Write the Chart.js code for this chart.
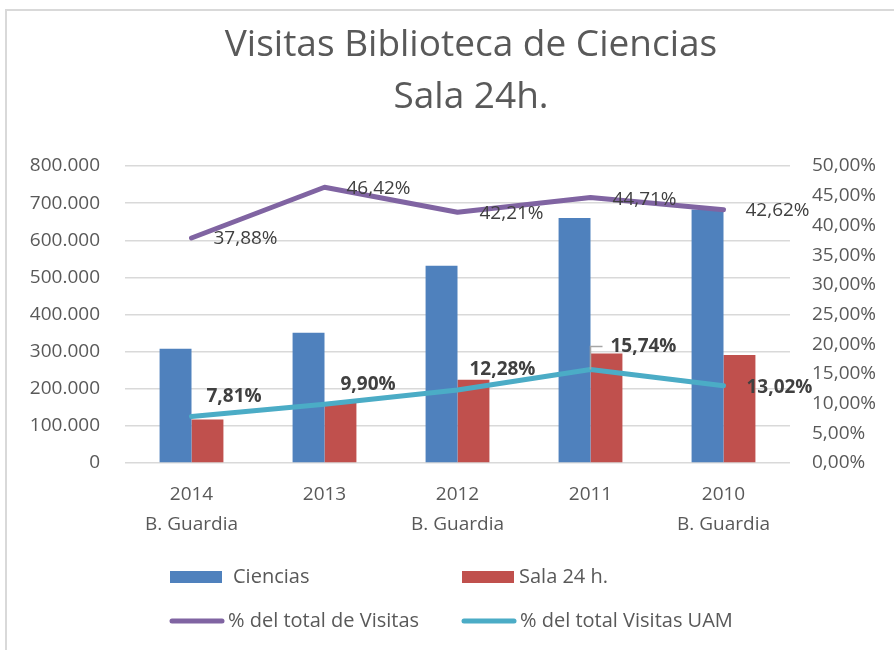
<!DOCTYPE html>
<html>
<head>
<meta charset="utf-8">
<script src="https://cdn.jsdelivr.net/npm/chart.js@4"></script>
<style>
  html, body { margin: 0; padding: 0; background: #fff; }
  #wrap { position: relative; width: 894px; height: 650px; }
  canvas { display: block; }
</style>
</head>
<body>
<div id="wrap"><canvas id="c" width="894" height="650"></canvas></div>
<script>
// ---- data ----
const categories = [['2014', 'B. Guardia'], '2013', ['2012', 'B. Guardia'], '2011', ['2010', 'B. Guardia']];
const ciencias = [308000, 351000, 531000, 660000, 683000];
const sala24 = [117000, 163000, 224000, 295000, 291000];
const pctVisitas = [37.88, 46.42, 42.21, 44.71, 42.62];
const pctUAM = [7.81, 9.90, 12.28, 15.74, 13.02];
const seriesNames = ['Ciencias', 'Sala 24 h.', '% del total de Visitas', '% del total Visitas UAM'];
const titleLines = ['Visitas Biblioteca de Ciencias', 'Sala 24h.'];

const FONT = '"Open Sans", Lato, "Liberation Sans", sans-serif';
const TXT = '#595959';
const FS = 19;
const LEG_FS = 20;

function fmtThousands(v) {
  return String(Math.round(v)).replace(/\B(?=(\d{3})+(?!\d))/g, '.');
}
function fmtPct(v) {
  return v.toFixed(2).replace('.', ',') + '%';
}

// label offsets (style only)
const visitasLabelOffset = [[22, 1], [22, 1], [22, 1], [22, 2], [22, 1]];
const uamLabelOffset = [[15, -20], [16, -20], [12, -20], [20, -23], [23, 2]];

const framePlugin = {
  id: 'frame',
  beforeDraw(chart) {
    const ctx = chart.ctx;
    ctx.save();
    ctx.fillStyle = '#fff';
    ctx.fillRect(0, 0, chart.width, chart.height);
    ctx.strokeStyle = '#D9D9D9';
    ctx.lineWidth = 2;
    ctx.beginPath();
    ctx.moveTo(6, chart.height);
    ctx.lineTo(6, 10);
    ctx.lineTo(chart.width, 10);
    ctx.stroke();
    // title
    ctx.fillStyle = TXT;
    ctx.font = '37px ' + FONT;
    ctx.textAlign = 'center';
    ctx.textBaseline = 'middle';
    ctx.fillText(titleLines[0], 471, 45);
    ctx.fillText(titleLines[1], 471, 97);
    ctx.restore();
  }
};

const labelPlugin = {
  id: 'pointLabels',
  afterDatasetsDraw(chart) {
    const ctx = chart.ctx;
    ctx.save();
    ctx.textBaseline = 'middle';
    ctx.textAlign = 'left';
    const m0 = chart.getDatasetMeta(0);
    ctx.font = FS + 'px ' + FONT;
    ctx.fillStyle = '#404040';
    m0.data.forEach((el, i) => {
      const o = visitasLabelOffset[i];
      ctx.fillText(fmtPct(pctVisitas[i]), el.x + o[0], el.y + o[1]);
    });
    const m1 = chart.getDatasetMeta(1);
    ctx.font = 'bold ' + FS + 'px ' + FONT;
    m1.data.forEach((el, i) => {
      const o = uamLabelOffset[i];
      if (i === 3) {
        ctx.strokeStyle = '#A6A6A6';
        ctx.lineWidth = 1.5;
        ctx.beginPath();
        ctx.moveTo(el.x, el.y);
        ctx.lineTo(el.x, el.y + o[1]);
        ctx.lineTo(el.x + 12, el.y + o[1]);
        ctx.stroke();
      }
      ctx.fillStyle = '#404040';
      ctx.fillText(fmtPct(pctUAM[i]), el.x + o[0], el.y + o[1]);
    });
    ctx.restore();
  }
};

const legendPlugin = {
  id: 'gridLegend',
  afterDraw(chart) {
    const ctx = chart.ctx;
    const ds = chart.data.datasets;
    const byLabel = l => ds.find(d => d.label === l);
    const items = [
      { d: byLabel(seriesNames[0]), x: 170, y: 577, type: 'box', gap: 63 },
      { d: byLabel(seriesNames[1]), x: 462, y: 577, type: 'box', gap: 57 },
      { d: byLabel(seriesNames[2]), x: 170, y: 621, type: 'line', gap: 58 },
      { d: byLabel(seriesNames[3]), x: 462, y: 621, type: 'line', gap: 58 }
    ];
    ctx.save();
    ctx.font = LEG_FS + 'px ' + FONT;
    ctx.textBaseline = 'middle';
    ctx.textAlign = 'left';
    items.forEach(it => {
      if (it.type === 'box') {
        ctx.fillStyle = it.d.backgroundColor;
        ctx.fillRect(it.x, it.y - 6, 52, 12);
      } else {
        ctx.strokeStyle = it.d.borderColor;
        ctx.lineWidth = 5;
        ctx.lineCap = 'round';
        ctx.beginPath();
        ctx.moveTo(it.x + 2, it.y);
        ctx.lineTo(it.x + 52, it.y);
        ctx.stroke();
      }
      ctx.fillStyle = TXT;
      ctx.fillText(it.d.label, it.x + it.gap, it.y);
    });
    ctx.restore();
  }
};

new Chart(document.getElementById('c'), {
  type: 'bar',
  data: {
    labels: categories,
    datasets: [
      {
        type: 'line', label: seriesNames[2], data: pctVisitas, yAxisID: 'y1',
        borderColor: '#8064A2', backgroundColor: '#8064A2', borderWidth: 5,
        pointRadius: 0, borderCapStyle: 'round', borderJoinStyle: 'round', order: 0
      },
      {
        type: 'line', label: seriesNames[3], data: pctUAM, yAxisID: 'y1',
        borderColor: '#4BACC6', backgroundColor: '#4BACC6', borderWidth: 5,
        pointRadius: 0, borderCapStyle: 'round', borderJoinStyle: 'round', order: 0
      },
      {
        label: seriesNames[0], data: ciencias, yAxisID: 'y',
        backgroundColor: '#4F81BD', order: 1,
        barPercentage: 1, categoryPercentage: 0.48
      },
      {
        label: seriesNames[1], data: sala24, yAxisID: 'y',
        backgroundColor: '#C0504D', order: 1,
        barPercentage: 1, categoryPercentage: 0.48
      }
    ]
  },
  options: {
    responsive: false,
    animation: false,
    layout: { padding: { left: 5, right: 0, top: 166, bottom: 113 } },
    plugins: {
      legend: { display: false },
      tooltip: { enabled: false },
      title: { display: false }
    },
    scales: {
      x: {
        grid: { display: false },
        border: { display: false },
        ticks: {
          color: TXT,
          font: { family: FONT, size: FS, lineHeight: 1.55 },
          padding: 9,
          maxRotation: 0,
          autoSkip: false
        },
        afterFit(s) { s.height = 74; }
      },
      y: {
        position: 'left',
        min: 0, max: 800000,
        grid: { color: '#D9D9D9', lineWidth: 1.5, drawTicks: false },
        border: { display: false },
        ticks: {
          stepSize: 100000,
          color: TXT,
          font: { family: FONT, size: FS },
          padding: 25,
          callback: v => fmtThousands(v)
        },
        afterFit(s) { s.width = 120; }
      },
      y1: {
        position: 'right',
        min: 0, max: 50,
        grid: { display: false, drawTicks: false },
        border: { display: false },
        ticks: {
          stepSize: 5,
          color: TXT,
          font: { family: FONT, size: FS },
          padding: 22,
          callback: v => fmtPct(v)
        },
        afterFit(s) { s.width = 104; }
      }
    }
  },
  plugins: [framePlugin, labelPlugin, legendPlugin]
});
</script>
</body>
</html>
